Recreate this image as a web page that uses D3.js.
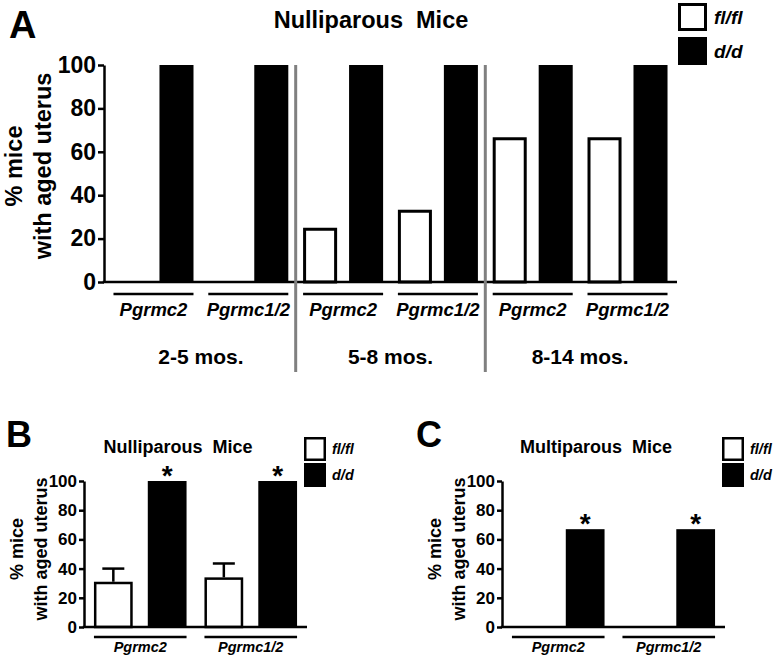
<!DOCTYPE html>
<html>
<head>
<meta charset="utf-8">
<script src="https://cdn.jsdelivr.net/npm/d3@7"></script>
<style>
  html, body { margin: 0; padding: 0; background: #fff; }
  svg { display: block; }
  text { font-family: "Liberation Sans", Arial, Helvetica, sans-serif; font-weight: bold; white-space: pre; }
</style>
</head>
<body>
<svg id="chart" width="773" height="659"></svg>
<script>
// ---------------- DATA ----------------
const seriesNames = ["fl/fl", "d/d"];
const yTicks = [0, 20, 40, 60, 80, 100];

// Panel A (Nulliparous mice, by age)
const titleA = "Nulliparous  Mice";
const ageGroupsA = ["2-5 mos.", "5-8 mos.", "8-14 mos."];
const genesA = ["Pgrmc2", "Pgrmc1/2", "Pgrmc2", "Pgrmc1/2", "Pgrmc2", "Pgrmc1/2"];
const flflA = [0, 0, 25, 33.3, 66.7, 66.7];
const ddA = [100, 100, 100, 100, 100, 100];

// Panel B (Nulliparous mice, pooled)
const titleB = "Nulliparous  Mice";
const genesB = ["Pgrmc2", "Pgrmc1/2"];
const flflB = [31, 34];
const flflErrB = [9, 9.5];
const ddB = [100, 100];
const sigB = [true, true];

// Panel C (Multiparous mice)
const titleC = "Multiparous  Mice";
const genesC = ["Pgrmc2", "Pgrmc1/2"];
const flflC = [0, 0];
const ddC = [67, 67];
const sigC = [true, true];

const yTitleLines = ["% mice", "with aged uterus"];

// ---------------- DRAW ----------------
const svg = d3.select("#chart");
svg.append("rect").attr("width", 773).attr("height", 659).attr("fill", "#fff");

function drawPanel(cfg) {
  const g = svg.append("g");
  const y = d3.scaleLinear().domain([0, 100]).range([cfg.y0, cfg.y100]);
  const outer = d3.scaleBand().domain(d3.range(cfg.genes.length))
    .range([cfg.axisX, cfg.axisEnd]).paddingInner(cfg.pInner).paddingOuter(cfg.pOuter);
  const inner = d3.scaleBand().domain(seriesNames).range([0, outer.bandwidth()]).paddingInner(cfg.barGap);

  // y axis
  const yAxis = d3.axisLeft(y).tickValues(yTicks).tickSize(cfg.tickLen).tickSizeOuter(0).tickPadding(cfg.tickPad);
  const ag = g.append("g").attr("transform", `translate(${cfg.axisX},0)`).call(yAxis);
  ag.select(".domain").attr("stroke", "#000").attr("stroke-width", cfg.axisW);
  ag.selectAll(".tick line").attr("stroke", "#000").attr("stroke-width", cfg.axisW);
  ag.selectAll(".tick text").attr("fill", "#000").style("font-size", cfg.tickFont + "px")
    .style("font-family", '"Liberation Sans", Arial, sans-serif').style("font-weight", "bold");

  // bars
  cfg.genes.forEach((gene, i) => {
    const vals = { "fl/fl": cfg.flfl[i], "d/d": cfg.dd[i] };
    seriesNames.forEach(s => {
      const v = vals[s];
      const x = outer(i) + inner(s);
      if (s === "fl/fl") {
        const sw = cfg.barStroke;
        g.append("rect")
          .attr("x", x + sw / 2).attr("y", y(v) + sw / 2)
          .attr("width", inner.bandwidth() - sw)
          .attr("height", Math.max(0, y(0) - y(v) - sw / 2))
          .attr("fill", "#fff").attr("stroke", v > 0 ? "#000" : "none").attr("stroke-width", sw);
      } else {
        g.append("rect")
          .attr("x", x).attr("y", y(v))
          .attr("width", inner.bandwidth()).attr("height", y(0) - y(v))
          .attr("fill", "#000");
      }
    });
    // error bar
    if (cfg.err) {
      const cx = outer(i) + inner("fl/fl") + inner.bandwidth() / 2;
      const top = y(cfg.flfl[i] + cfg.err[i]);
      g.append("line").attr("x1", cx).attr("x2", cx).attr("y1", y(cfg.flfl[i])).attr("y2", top)
        .attr("stroke", "#000").attr("stroke-width", cfg.axisW);
      g.append("line").attr("x1", cx - cfg.capW / 2).attr("x2", cx + cfg.capW / 2).attr("y1", top).attr("y2", top)
        .attr("stroke", "#000").attr("stroke-width", cfg.axisW);
    }
    // significance
    if (cfg.sig && cfg.sig[i]) {
      const cx = outer(i) + inner("d/d") + inner.bandwidth() / 2;
      g.append("text").attr("x", cx).attr("y", y(cfg.dd[i]) + cfg.starDy)
        .attr("text-anchor", "middle").style("font-size", cfg.starFont + "px").text("*");
    }
    // group underline + label
    g.append("line").attr("x1", outer(i)).attr("x2", outer(i) + outer.bandwidth())
      .attr("y1", cfg.underY).attr("y2", cfg.underY).attr("stroke", "#000").attr("stroke-width", cfg.axisW);
    g.append("text").attr("x", outer(i) + outer.bandwidth() / 2).attr("y", cfg.labelY)
      .attr("text-anchor", "middle").style("font-size", cfg.labelFont + "px").style("font-style", "italic")
      .text(gene);
  });

  // x axis line
  g.append("line").attr("x1", cfg.axisX - cfg.axisW / 2).attr("x2", cfg.axisEnd)
    .attr("y1", y(0)).attr("y2", y(0)).attr("stroke", "#000").attr("stroke-width", cfg.axisW);

  // y title
  const ymid = cfg.yTitleMid;
  yTitleLines.forEach((t, k) => {
    g.append("text").attr("transform", `translate(${cfg.yTitleX[k]},${ymid}) rotate(-90)`)
      .attr("text-anchor", "middle").style("font-size", cfg.yTitleFont + "px").text(t);
  });

  // title
  g.append("text").attr("x", cfg.titleX).attr("y", cfg.titleY).attr("text-anchor", "middle")
    .attr("xml:space", "preserve").style("font-size", cfg.titleFont + "px").text(cfg.title);

  // panel letter
  g.append("text").attr("x", cfg.letterX).attr("y", cfg.letterY).style("font-size", cfg.letterFont + "px").text(cfg.letter);

  // legend
  const L = cfg.legend;
  const sw = cfg.barStroke;
  g.append("rect").attr("x", L.x + sw / 2).attr("y", L.y1 + sw / 2).attr("width", L.w - sw).attr("height", L.h - sw)
    .attr("fill", "#fff").attr("stroke", "#000").attr("stroke-width", sw);
  g.append("rect").attr("x", L.x).attr("y", L.y2).attr("width", L.w).attr("height", L.h).attr("fill", "#000");
  g.append("text").attr("x", L.tx).attr("y", L.y1 + L.h / 2 + L.font * 0.36).style("font-size", L.font + "px")
    .style("font-style", "italic").text(seriesNames[0]);
  g.append("text").attr("x", L.tx).attr("y", L.y2 + L.h / 2 + L.font * 0.36).style("font-size", L.font + "px")
    .style("font-style", "italic").text(seriesNames[1]);

  return { g, y, outer };
}

// Panel A
const A = drawPanel({
  letter: "A", letterX: 9, letterY: 38, letterFont: 38,
  title: titleA, titleX: 371, titleY: 28, titleFont: 23.5,
  genes: genesA, flfl: flflA, dd: ddA,
  y0: 282, y100: 65, axisX: 104, axisEnd: 677,
  pInner: 0.156, pOuter: 0.1, barGap: 0.26,
  tickLen: 6, tickPad: 2, tickFont: 23, axisW: 2.5, barStroke: 3,
  underY: 294, labelY: 316, labelFont: 18.5,
  yTitleX: [22, 51], yTitleMid: 166, yTitleFont: 23.5,
  legend: { x: 678, y1: 3, y2: 37, w: 29, h: 28, tx: 714, font: 19 }
});

// Panel A extras: age dividers and age labels
{
  const o = A.outer, bw = o.bandwidth();
  [1, 3].forEach(i => {
    const xm = (o(i) + bw + o(i + 1)) / 2;
    A.g.append("line").attr("x1", xm).attr("x2", xm).attr("y1", A.y(100)).attr("y2", 372)
      .attr("stroke", "#808080").attr("stroke-width", 3);
  });
  ageGroupsA.forEach((t, k) => {
    const xm = (o(2 * k) + o(2 * k + 1) + bw) / 2;
    A.g.append("text").attr("x", xm).attr("y", 364).attr("text-anchor", "middle")
      .style("font-size", "21px").text(t);
  });
}

// Panel B
drawPanel({
  letter: "B", letterX: 6, letterY: 447, letterFont: 36,
  title: titleB, titleX: 178, titleY: 453, titleFont: 18,
  genes: genesB, flfl: flflB, dd: ddB, err: flflErrB, sig: sigB,
  y0: 627, y100: 481, axisX: 84, axisEnd: 307,
  pInner: 0.162, pOuter: 0.09, barGap: 0.28,
  tickLen: 5, tickPad: 2, tickFont: 17, axisW: 2.5, barStroke: 2.5, capW: 22,
  starDy: 4, starFont: 28,
  underY: 637, labelY: 652, labelFont: 14.5,
  yTitleX: [23, 47], yTitleMid: 549, yTitleFont: 18,
  legend: { x: 304, y1: 437, y2: 463, w: 22, h: 24, tx: 332, font: 14.5 }
});

// Panel C
const dx = 418;
drawPanel({
  letter: "C", letterX: 416, letterY: 447, letterFont: 36,
  title: titleC, titleX: 178 + dx, titleY: 453, titleFont: 18,
  genes: genesC, flfl: flflC, dd: ddC, sig: sigC,
  y0: 627, y100: 481, axisX: 84 + dx, axisEnd: 307 + dx,
  pInner: 0.162, pOuter: 0.09, barGap: 0.28,
  tickLen: 5, tickPad: 2, tickFont: 17, axisW: 2.5, barStroke: 2.5,
  starDy: 4, starFont: 28,
  underY: 637, labelY: 652, labelFont: 14.5,
  yTitleX: [23 + dx, 47 + dx], yTitleMid: 549, yTitleFont: 18,
  legend: { x: 304 + dx, y1: 437, y2: 463, w: 22, h: 24, tx: 332 + dx, font: 14.5 }
});
</script>
</body>
</html>
